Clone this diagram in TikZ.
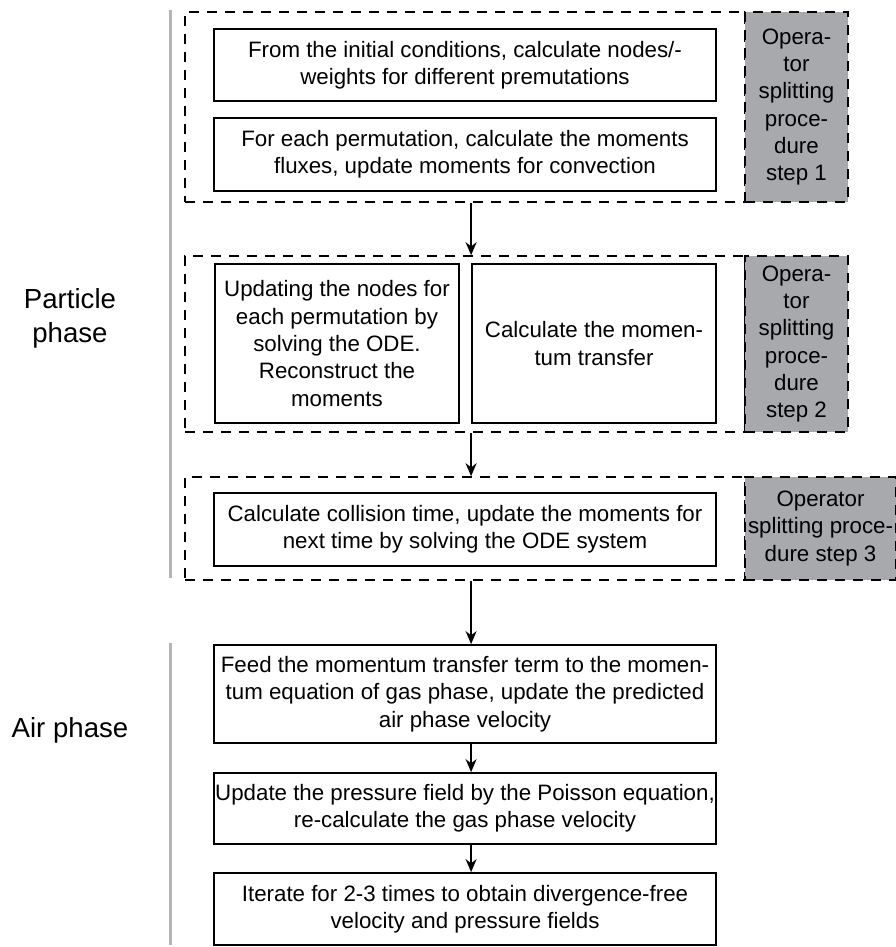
\documentclass[tikz,border=0pt]{standalone}
\usepackage{fontspec}
\setmainfont{Liberation Sans}
\usepackage{tikz}
\usetikzlibrary{calc,arrows.meta}
\definecolor{opgray}{RGB}{167,169,172}
\definecolor{bargray}{RGB}{180,181,184}

\begin{document}
\begin{tikzpicture}[x=1pt,y=-1pt,
    every node/.style={inner sep=0pt,align=center,font=\fontsize{22.3}{27.3}\selectfont},
    box/.style={draw,line width=1.8pt,minimum width=502pt,minimum height=#1},
    halfbox/.style={draw,line width=1.8pt,minimum width=244pt,minimum height=159pt},
    stage/.style={draw,dashed,dash pattern=on 10pt off 8pt,line width=1.6pt,minimum width=560pt,minimum height=#1},
    opbox/.style={draw,dashed,dash pattern=on 10pt off 8pt,line width=1.6pt,fill=opgray,minimum height=#1},
    flow/.style={-{Stealth[length=13pt,width=11pt]},line width=1.8pt},
    phase/.style={font=\fontsize{27.6}{34}\selectfont}]
  \useasboundingbox (0,0) rectangle (896,947);
  % particle phase
  \draw[bargray,line width=3pt] (170,10) -- (170,578);
  \node[phase] (pp) at (70,318) {Particle\\phase};
  \node[stage=190pt] (s1) at (465,107) {};
  \node[opbox=190pt,minimum width=103pt] (o1) at (796.5,107) {Opera-\\tor\\splitting\\proce-\\dure\\step 1};
  \node[box=72pt] (b1a) at (465,65) {From the initial conditions, calculate nodes/-\\weights for different premutations};
  \node[box=73pt] (b1b) at (465,154.5) {For each permutation, calculate the moments\\fluxes, update moments for convection};
  \node[stage=176pt] (s2) at (465,344) {};
  \node[opbox=176pt,minimum width=103pt] (o2) at (796.5,344) {Opera-\\tor\\splitting\\proce-\\dure\\step 2};
  \node[halfbox] (b2a) at (337,343.5) {Updating the nodes for\\each permutation by\\solving the ODE.\\Reconstruct the\\moments};
  \node[halfbox] (b2b) at (594,343.5) {Calculate the momen-\\tum transfer};
  \node[stage=103pt] (s3) at (465,528.5) {};
  \node[opbox=103pt,minimum width=151pt] (o3) at (820.5,528.5) {Operator\\splitting proce-\\dure step 3};
  \node[box=73pt] (b3) at (465,529.5) {Calculate collision time, update the moments for\\next time by solving the ODE system};
  % air phase
  \draw[bargray,line width=3pt] (170,643) -- (170,945);
  \node[phase] (ap) at (70,730) {Air phase};
  \node[box=98pt] (b4) at (465,694) {Feed the momentum transfer term to the momen-\\tum equation of gas phase, update the predicted\\air phase velocity};
  \node[box=71pt] (b5) at (465,808.5) {Update the pressure field by the Poisson equation,\\re-calculate the gas phase velocity};
  \node[box=72pt] (b6) at (465,909) {Iterate for 2-3 times to obtain divergence-free\\velocity and pressure fields};
  \draw[flow] (s1.south -| b2b.west) -- (s2.north -| b2b.west);
  \draw[flow] (s2.south -| b2b.west) -- (s3.north -| b2b.west);
  \draw[flow] (s3.south -| b2b.west) -- (b4.north -| b2b.west);
  \draw[flow] (b4.south -| b2b.west) -- (b5.north -| b2b.west);
  \draw[flow] (b5.south -| b2b.west) -- (b6.north -| b2b.west);
\end{tikzpicture}
\end{document}
